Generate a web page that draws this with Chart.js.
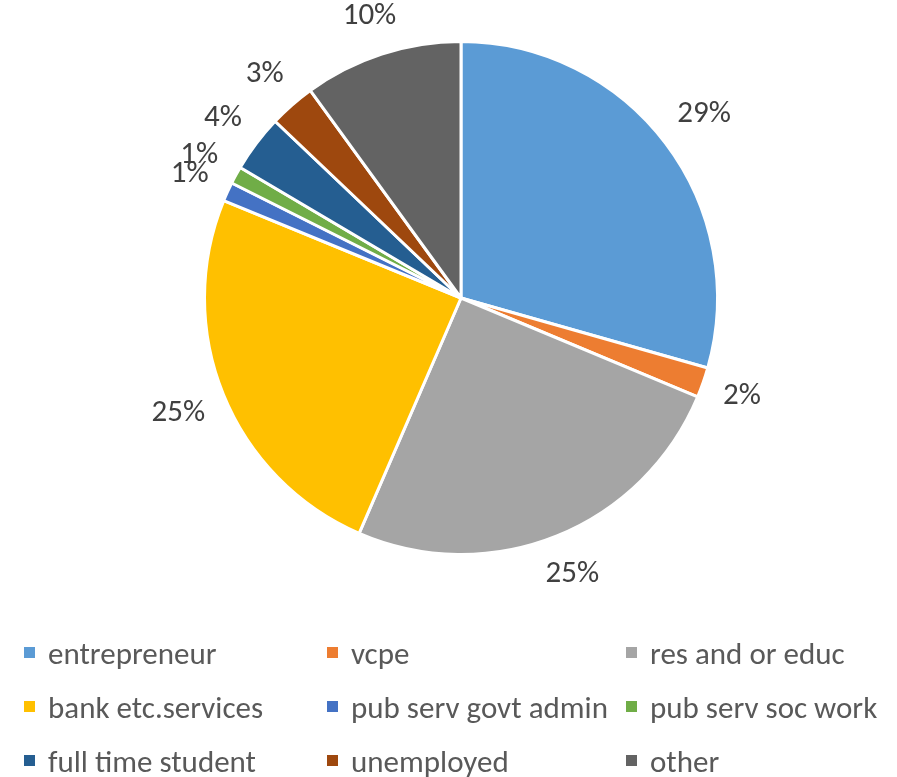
<!DOCTYPE html>
<html lang="en">
<head>
    <meta charset="UTF-8">
    <title>Occupation pie</title>
    <script src="https://cdn.jsdelivr.net/npm/chart.js"></script>
    <style>
        body {
            margin: 0;
            background: white;
            font-family: "Carlito", "Lato", sans-serif;
        }
        #wrap {
            position: relative;
            width: 897px;
            height: 777px;
        }
        #legend {
            position: absolute;
            left: 24px;
            top: 631px;
            display: grid;
            grid-template-columns: 303px 299px 260px;
            row-gap: 11px;
        }
        .item {
            display: flex;
            align-items: center;
            height: 43px;
            font-size: 31px;
            color: #595959;
            white-space: nowrap;
        }
        .box {
            width: 11px;
            height: 11px;
            margin-right: 13px;
            flex: none;
        }
    </style>
</head>
<body>
    <div id="wrap">
        <canvas id="chart" width="897" height="777"></canvas>
        <div id="legend"></div>
    </div>

    <script>
        const labels = ['entrepreneur', 'vcpe', 'res and or educ', 'bank etc.services',
            'pub serv govt admin', 'pub serv soc work', 'full time student', 'unemployed', 'other'];
        const shares = [29.4, 1.9, 25.2, 24.7, 1.2, 1.1, 3.6, 2.9, 10.0];
        const colors = ['#5B9BD5', '#ED7D31', '#A5A5A5', '#FFC000', '#4472C4',
            '#70AD47', '#255E91', '#9E480E', '#636363'];

        const labelFont = '31px Carlito, Lato, sans-serif';

        // percent labels outside each slice
        const outsideLabels = {
            id: 'outsideLabels',
            afterDatasetsDraw(chart) {
                const ctx = chart.ctx;
                const total = shares.reduce((a, b) => a + b, 0);
                ctx.save();
                ctx.font = labelFont;
                ctx.fillStyle = '#404040';
                ctx.textAlign = 'center';
                ctx.textBaseline = 'middle';
                chart.getDatasetMeta(0).data.forEach((arc, i) => {
                    const txt = Math.round(shares[i] / total * 100) + '%';
                    const mid = (arc.startAngle + arc.endAngle) / 2;
                    const ux = Math.cos(mid), uy = Math.sin(mid);
                    const w = ctx.measureText(txt).width, h = 26;
                    const d = arc.outerRadius + 19 + (w / 2) * Math.abs(ux) + (h / 2) * Math.abs(uy);
                    ctx.fillText(txt, arc.x + ux * d, arc.y + uy * d);
                });
                ctx.restore();
            }
        };

        new Chart(document.getElementById('chart'), {
            type: 'pie',
            data: {
                labels: labels,
                datasets: [{
                    data: shares,
                    backgroundColor: colors,
                    borderColor: '#ffffff',
                    borderWidth: 3
                }]
            },
            options: {
                responsive: false,
                animation: false,
                layout: {
                    padding: { left: 203, right: 178, top: 40, bottom: 221 }
                },
                plugins: {
                    legend: { display: false },
                    tooltip: { enabled: false }
                }
            },
            plugins: [outsideLabels]
        });

        const legend = document.getElementById('legend');
        legend.innerHTML = labels.map((l, i) =>
            `<div class="item"><span class="box" style="background:${colors[i]}"></span>${l}</div>`
        ).join('');
    </script>
</body>
</html>
